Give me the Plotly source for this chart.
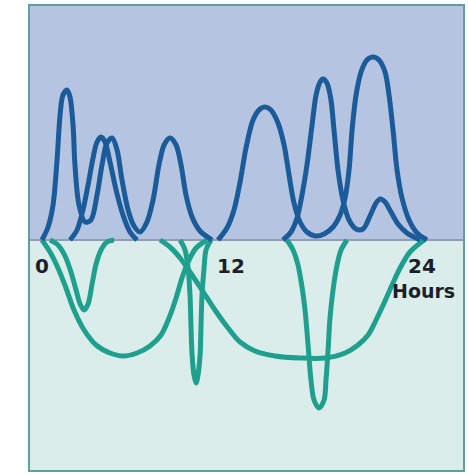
import plotly.graph_objects as go

# ---- Data (hours on x, relative level on y; up = blue series, down = teal series) ----
b1_hours = [0, 0.38, 0.69, 0.94, 1.13, 1.31, 1.56, 1.75, 1.94, 2.06, 2.31, 2.69, 3.06, 3.44, 3.75,
            4.06, 4.38, 4.69, 5.0, 5.38, 5.75, 6.13, 6.56, 6.94, 7.31, 7.63, 8.0, 8.38, 8.69, 9.0,
            9.38, 9.88, 10.63]
b1_level = [0, 13, 35, 80, 125, 145, 150, 143, 115, 75, 35, 18, 20, 45, 75,
            97, 102, 90, 60, 30, 14, 8, 18, 40, 75, 95, 102, 95, 75, 45,
            23, 9, 0]

b2_hours = [1.75, 2.19, 2.56, 2.88, 3.19, 3.44, 3.69, 3.94, 4.25, 4.63, 5.06, 5.5, 5.94]
b2_level = [0, 10, 30, 55, 82, 98, 103, 98, 78, 50, 25, 8, 0]

b3_hours = [11.0, 11.56, 12.0, 12.38, 12.75, 13.19, 13.63, 13.94, 14.31, 14.75, 15.13, 15.44,
            15.75, 16.13, 16.56, 17.06, 17.63, 18.19, 18.63, 18.94, 19.19, 19.38, 19.63, 19.94,
            20.31, 20.69, 21.06, 21.44, 21.69, 21.94, 22.19, 22.5, 22.94, 23.44, 24.06]
b3_level = [0, 12, 30, 58, 92, 120, 131, 133, 130, 117, 95, 65,
            37, 18, 8, 4, 6, 13, 25, 42, 70, 110, 145, 168,
            180, 183, 180, 168, 145, 110, 70, 42, 20, 7, 0]

b4_hours = [15.06, 15.56, 15.94, 16.25, 16.56, 16.88, 17.13, 17.38, 17.56, 17.81, 18.06, 18.25,
            18.5, 18.81, 19.19, 19.63, 20.06, 20.5, 20.88, 21.13, 21.44, 21.81, 22.25, 22.81, 23.63]
b4_level = [0, 8, 22, 45, 75, 115, 145, 158, 161, 157, 140, 110,
            70, 40, 20, 11, 11, 24, 37, 41, 38, 28, 16, 7, 0]

t1_hours = [0.5, 1.0, 1.44, 1.81, 2.13, 2.38, 2.63, 2.88, 3.13, 3.38, 3.69, 4.06, 4.5]
t1_level = [0, -5, -16, -32, -50, -64, -70, -64, -44, -24, -10, -2, 0]

t2_hours = [0, 0.5, 1.0, 1.5, 2.0, 2.63, 3.38, 4.25, 5.06, 5.94, 6.75, 7.44, 7.94, 8.38,
            8.75, 9.13, 9.63, 10.31]
t2_level = [0, -12, -28, -48, -70, -90, -105, -113, -116, -113, -106, -95, -78, -58,
            -38, -22, -8, 0]

t3_hours = [8.63, 8.94, 9.13, 9.25, 9.31, 9.38, 9.5, 9.63, 9.75, 9.88, 9.94, 10.0, 10.13, 10.25, 10.56]
t3_level = [0, -10, -28, -55, -85, -115, -135, -143, -135, -115, -85, -55, -28, -10, 0]

t4_hours = [7.38, 8.0, 8.63, 9.25, 10.0, 10.81, 11.63, 12.38, 13.31, 14.56, 16.13, 17.69,
            18.94, 19.75, 20.38, 20.88, 21.38, 21.88, 22.38, 23.0, 23.88]
t4_level = [0, -7, -18, -32, -50, -70, -88, -102, -111, -116, -118, -118,
            -113, -105, -95, -80, -63, -45, -28, -12, 0]

t5_hours = [15.31, 15.69, 16.0, 16.25, 16.44, 16.63, 16.81, 17.0, 17.31, 17.63, 17.75, 17.88,
            18.0, 18.19, 18.44, 18.69, 19.06]
t5_level = [0, -10, -25, -47, -70, -105, -140, -160, -168, -160, -140, -110,
            -78, -50, -25, -10, 0]

tick_vals = [0, 12, 24]
tick_text = ["0", "12", "24"]
axis_title = "Hours"

# ---- Styles ----
BLUE = "#1b5b99"
TEAL = "#1fa08e"
UPPER_BG = "#b4c4e1"
LOWER_BG = "#daedea"

fig = go.Figure()

teal_series = [(t1_hours, t1_level), (t2_hours, t2_level), (t3_hours, t3_level),
               (t4_hours, t4_level), (t5_hours, t5_level)]
blue_series = [(b1_hours, b1_level), (b2_hours, b2_level), (b3_hours, b3_level),
               (b4_hours, b4_level)]

for xs, ys in teal_series:
    fig.add_trace(go.Scatter(x=xs, y=ys, mode="lines",
                             line=dict(color=TEAL, width=5, shape="spline", smoothing=0.9),
                             hoverinfo="skip", showlegend=False))
for xs, ys in blue_series:
    fig.add_trace(go.Scatter(x=xs, y=ys, mode="lines",
                             line=dict(color=BLUE, width=5, shape="spline", smoothing=0.9),
                             hoverinfo="skip", showlegend=False))

y_top, y_bottom = 235, -231
x_left, x_right = -0.8125, 26.375

shapes = [
    dict(type="rect", xref="paper", yref="y", x0=0, x1=1, y0=0, y1=y_top,
         fillcolor=UPPER_BG, line=dict(width=0), layer="below"),
    dict(type="rect", xref="paper", yref="y", x0=0, x1=1, y0=y_bottom, y1=0,
         fillcolor=LOWER_BG, line=dict(width=0), layer="below"),
    dict(type="line", xref="paper", yref="y", x0=0, x1=1, y0=0, y1=0,
         line=dict(color="#939db0", width=2), layer="below"),
    dict(type="rect", xref="paper", yref="paper", x0=0, x1=1, y0=0, y1=1,
         line=dict(color="#5e9f9f", width=2), fillcolor="rgba(0,0,0,0)", layer="above"),
]

annotations = []
shifts = [0, -3, -4]
for v, t, s in zip(tick_vals, tick_text, shifts):
    annotations.append(dict(x=v, y=-26, xref="x", yref="y", text=t, showarrow=False,
                            xshift=s, font=dict(family="DejaVu Sans", size=20, color="#1c1f2a",
                                                weight="bold"),
                            xanchor="center", yanchor="middle"))
annotations.append(dict(x=tick_vals[-1], y=-51, xref="x", yref="y", text=axis_title,
                        showarrow=False, xshift=-3,
                        font=dict(family="DejaVu Sans", size=19, color="#1c1f2a", weight="bold"),
                        xanchor="center", yanchor="middle"))

fig.update_layout(
    width=468, height=474,
    margin=dict(l=29, r=4, t=5, b=3),
    paper_bgcolor="white",
    plot_bgcolor="rgba(0,0,0,0)",
    shapes=shapes,
    annotations=annotations,
    xaxis=dict(range=[x_left, x_right], visible=False, fixedrange=True),
    yaxis=dict(range=[y_bottom, y_top], visible=False, fixedrange=True),
    showlegend=False,
)

fig.write_html("out.html", config={"displayModeBar": False},
               post_script="document.body.style.margin='0px';")
